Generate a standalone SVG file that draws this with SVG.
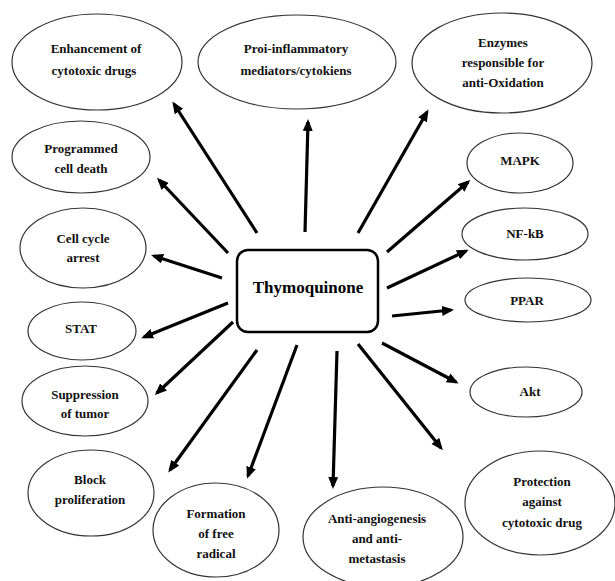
<svg xmlns="http://www.w3.org/2000/svg" width="615" height="581" viewBox="0 0 615 581">
<style>
.n ellipse{fill:#fff;stroke:#333;stroke-width:1.2}
.n text{font-weight:bold;font-size:13px;fill:#111;text-anchor:middle}
.c line{stroke:#000;stroke-width:3.2}
#center rect{fill:#fff;stroke:#000;stroke-width:2.5}
#center text{font-weight:bold;font-size:17px;fill:#000;text-anchor:middle}
</style>
<defs>
<marker id="ah" markerUnits="userSpaceOnUse" markerWidth="12" markerHeight="11" refX="9" refY="5" orient="auto">
<path d="M0,0 L12,5 L0,10 z" fill="#000"/>
</marker>
</defs>
<rect width="615" height="581" fill="#fff"/>
<g class="c" id="connectors">
<line x1="257" y1="233" x2="174" y2="104" marker-end="url(#ah)"/>
<line x1="228" y1="253" x2="159" y2="180" marker-end="url(#ah)"/>
<line x1="305" y1="232" x2="308" y2="122" marker-end="url(#ah)"/>
<line x1="358" y1="233" x2="427" y2="112" marker-end="url(#ah)"/>
<line x1="387" y1="252" x2="468" y2="182" marker-end="url(#ah)"/>
<line x1="387" y1="288" x2="466" y2="251" marker-end="url(#ah)"/>
<line x1="392" y1="316" x2="451" y2="310" marker-end="url(#ah)"/>
<line x1="382" y1="343" x2="456" y2="382" marker-end="url(#ah)"/>
<line x1="358" y1="344" x2="441" y2="448" marker-end="url(#ah)"/>
<line x1="337" y1="351" x2="333" y2="486" marker-end="url(#ah)"/>
<line x1="297" y1="345" x2="248" y2="476" marker-end="url(#ah)"/>
<line x1="257" y1="350" x2="170" y2="470" marker-end="url(#ah)"/>
<line x1="233" y1="322" x2="157" y2="393" marker-end="url(#ah)"/>
<line x1="228" y1="303" x2="144" y2="337" marker-end="url(#ah)"/>
<line x1="222" y1="278" x2="154" y2="256" marker-end="url(#ah)"/>
</g>
<g font-family="Liberation Serif, DejaVu Serif, serif">
<g id="center">
<rect x="237" y="250" width="141" height="82" rx="11"/>
<text x="308" y="293">Thymoquinone</text>
</g>
<g class="n" id="n-enhancement"><ellipse cx="97" cy="62" rx="85" ry="48"/><text x="96" y="53">Enhancement of</text><text x="94" y="75">cytotoxic drugs</text></g>
<g class="n" id="n-proi"><ellipse cx="297" cy="62" rx="99" ry="47"/><text x="296" y="53">Proi-inflammatory</text><text x="296" y="75">mediators/cytokiens</text></g>
<g class="n" id="n-enzymes"><ellipse cx="502" cy="63" rx="90" ry="50"/><text x="503" y="47">Enzymes</text><text x="503" y="67">responsible for</text><text x="503" y="87">anti-Oxidation</text></g>
<g class="n" id="n-mapk"><ellipse cx="520" cy="163" rx="53" ry="30"/><text x="520" y="165">MAPK</text></g>
<g class="n" id="n-programmed"><ellipse cx="81" cy="157" rx="69" ry="36"/><text x="81" y="153">Programmed</text><text x="81" y="173">cell death</text></g>
<g class="n" id="n-cellcycle"><ellipse cx="83" cy="248" rx="63" ry="40"/><text x="83" y="243">Cell cycle</text><text x="83" y="262">arrest</text></g>
<g class="n" id="n-stat"><ellipse cx="82" cy="331" rx="54" ry="29"/><text x="81" y="333">STAT</text></g>
<g class="n" id="n-nfkb"><ellipse cx="525" cy="234" rx="63" ry="26"/><text x="525" y="238">NF-kB</text></g>
<g class="n" id="n-ppar"><ellipse cx="528" cy="300" rx="63" ry="22"/><text x="527" y="305">PPAR</text></g>
<g class="n" id="n-akt"><ellipse cx="526" cy="392" rx="56" ry="25"/><text x="530" y="396">Akt</text></g>
<g class="n" id="n-protection"><ellipse cx="540" cy="503" rx="75" ry="52"/><text x="542" y="486">Protection</text><text x="542" y="506">against</text><text x="542" y="527">cytotoxic drug</text></g>
<g class="n" id="n-antiangio"><ellipse cx="383" cy="537" rx="80" ry="50"/><text x="377" y="523">Anti-angiogenesis</text><text x="377" y="543">and anti-</text><text x="377" y="563">metastasis</text></g>
<g class="n" id="n-formation"><ellipse cx="216" cy="530" rx="63" ry="47"/><text x="216" y="518">Formation</text><text x="216" y="538">of free</text><text x="216" y="558">radical</text></g>
<g class="n" id="n-block"><ellipse cx="91" cy="493" rx="63" ry="43"/><text x="90" y="484">Block</text><text x="90" y="504">proliferation</text></g>
<g class="n" id="n-suppression"><ellipse cx="85" cy="401" rx="63" ry="35"/><text x="85" y="399">Suppression</text><text x="85" y="418">of tumor</text></g>
</g>
</svg>
